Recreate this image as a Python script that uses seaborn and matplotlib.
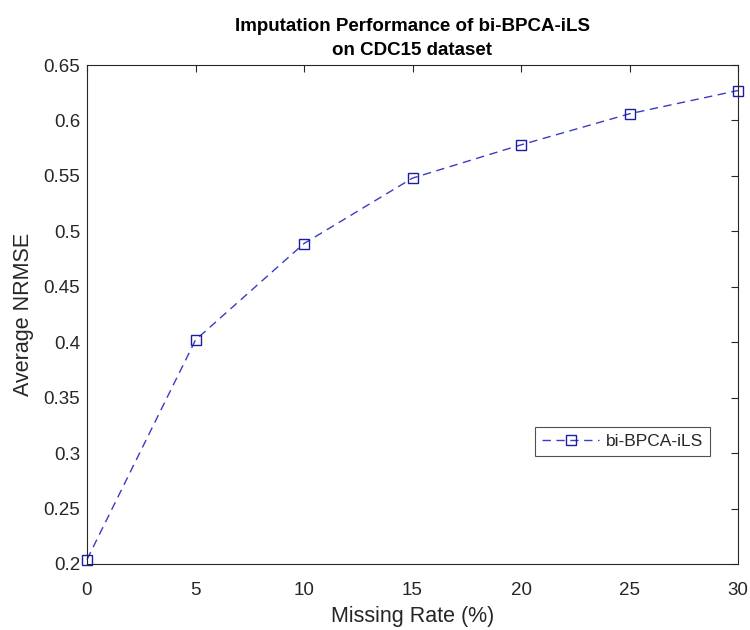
import matplotlib
matplotlib.use("Agg")
import matplotlib.pyplot as plt
import seaborn as sns
import pandas as pd

missing_rate = [0, 5, 10, 15, 20, 25, 30]
nrmse = [0.204, 0.402, 0.489, 0.548, 0.578, 0.606, 0.627]
series_name = "bi-BPCA-iLS"
y_ticks = [0.2, 0.25, 0.3, 0.35, 0.4, 0.45, 0.5, 0.55, 0.6, 0.65]
y_ticklabels = ["0.2", "0.25", "0.3", "0.35", "0.4", "0.45", "0.5", "0.55", "0.6", "0.65"]
x_ticks = [0, 5, 10, 15, 20, 25, 30]

sns.set_theme(style="white")
plt.rcParams["font.family"] = ["Liberation Sans", "DejaVu Sans"]

df = pd.DataFrame({"Missing Rate (%)": missing_rate, "Average NRMSE": nrmse, "method": series_name})

fig = plt.figure(figsize=(7.5, 6.3), dpi=100)
ax = fig.add_axes([87/750, 1-564/630, (738-87)/750, (564-65)/630])

sns.lineplot(data=df, x="Missing Rate (%)", y="Average NRMSE", ax=ax,
             color="#3b3bc4", linestyle=(0, (6, 4)), linewidth=1.0,
             marker="s", markersize=7, markerfacecolor="none",
             markeredgecolor="#1c1ca8", markeredgewidth=1.0,
             label=series_name, clip_on=False)

ax.set_xlim(0, 30)
ax.set_ylim(0.2, 0.65)
ax.set_xticks(x_ticks)
ax.set_xticklabels([str(v) for v in x_ticks])
ax.set_yticks(y_ticks)
ax.set_yticklabels(y_ticklabels)

txt = "#262626"
for s in ax.spines.values():
    s.set_visible(True)
    s.set_color("#262626")
    s.set_linewidth(0.8)
ax.tick_params(direction="in", length=5, width=0.8, color="#262626",
               top=True, right=True, labelsize=13.5, labelcolor=txt, pad=5)
ax.tick_params(axis="x", pad=13)
ax.set_xlabel("Missing Rate (%)", fontsize=15.5, color=txt, labelpad=5)
ax.set_ylabel("Average NRMSE", fontsize=15.5, color=txt, labelpad=7)
ax.set_title("Imputation Performance of bi-BPCA-iLS\non CDC15 dataset",
             fontsize=13.5, fontweight="bold", color="black", pad=7, linespacing=1.55)

leg = ax.legend(loc="center", bbox_to_anchor=(0.823, 0.245), fontsize=12.5,
                frameon=True, fancybox=False, edgecolor="#262626",
                handlelength=3.3, borderpad=0.4, handletextpad=0.4)
leg.get_frame().set_linewidth(0.8)
for t in leg.get_texts():
    t.set_color(txt)

fig.savefig("out.png", dpi=100)
